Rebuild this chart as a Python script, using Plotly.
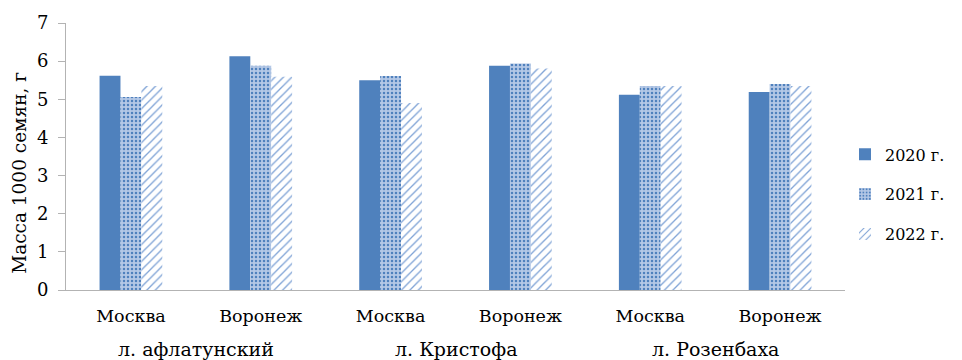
import plotly.graph_objects as go

# Seed mass (g per 1000 seeds) by line, site and year
lines = ["л. афлатунский", "л. Кристофа", "л. Розенбаха"]
sites = ["Москва", "Воронеж", "Москва", "Воронеж", "Москва", "Воронеж"]
years = ["2020 г.", "2021 г.", "2022 г."]

mass_2020 = [5.62, 6.13, 5.50, 5.88, 5.12, 5.19]
mass_2021 = [5.06, 5.88, 5.61, 5.94, 5.35, 5.40]
mass_2022 = [5.35, 5.59, 4.90, 5.81, 5.35, 5.35]

series = [mass_2020, mass_2021, mass_2022]
positions = list(range(len(sites)))

FONT = "DejaVu Serif"
BLUE = "#4F81BD"

patterns = [
    dict(shape=""),
    dict(shape=".", fgcolor=BLUE, bgcolor="#B4C8E6", size=4, solidity=0.3, fillmode="replace"),
    dict(shape="/", fgcolor="#7FA3D6", bgcolor="white", size=6, solidity=0.22, fillmode="replace"),
]
colors = [BLUE, "#B4C8E6", "white"]

fig = go.Figure()
for i, (name, vals) in enumerate(zip(years, series)):
    fig.add_trace(go.Bar(
        x=positions, y=vals, name=name,
        marker=dict(color=colors[i], line=dict(width=0), pattern=patterns[i]),
        legendgroup=name,
    ))

# Line names centred beneath each pair of sites
for k, ln in enumerate(lines):
    fig.add_annotation(
        x=(positions[2 * k] + positions[2 * k + 1]) / 2, xref="x",
        y=-0.222, yref="paper", yanchor="middle",
        text=ln, showarrow=False, font=dict(family=FONT, size=19, color="#000"),
    )

fig.add_annotation(
    x=-0.06, xref="paper", y=0.44, yref="paper",
    text="Масса 1000 семян, г", textangle=-90, showarrow=False,
    xanchor="center", yanchor="middle",
    font=dict(family=FONT, size=18.5, color="#000"),
)

fig.update_layout(
    width=962, height=360,
    margin=dict(l=66, r=113, t=19, b=70),
    paper_bgcolor="white", plot_bgcolor="white",
    barmode="group", bargap=0.517, bargroupgap=0,
    font=dict(family=FONT, size=18, color="#000"),
    legend=dict(x=1.0, xanchor="left", y=0.358, yanchor="middle",
                tracegroupgap=16, font=dict(family=FONT, size=16, color="#000")),
    showlegend=True,
)
fig.update_xaxes(
    range=[-0.5, len(sites) - 0.5], tickvals=positions, ticktext=sites,
    showline=True, linecolor="#B3B3B3", linewidth=1, ticks="",
    showgrid=False, zeroline=False, ticklabelstandoff=10,
    tickfont=dict(family=FONT, size=17.5, color="#000"),
)
fig.update_yaxes(
    range=[0, 7], dtick=1, showline=True, linecolor="#B3B3B3", linewidth=1,
    ticks="outside", ticklen=7, tickcolor="#B3B3B3", showgrid=False, zeroline=False,
    ticklabelstandoff=6, tickfont=dict(family=FONT, size=18, color="#000"),
)

fig.write_html("out.html")
